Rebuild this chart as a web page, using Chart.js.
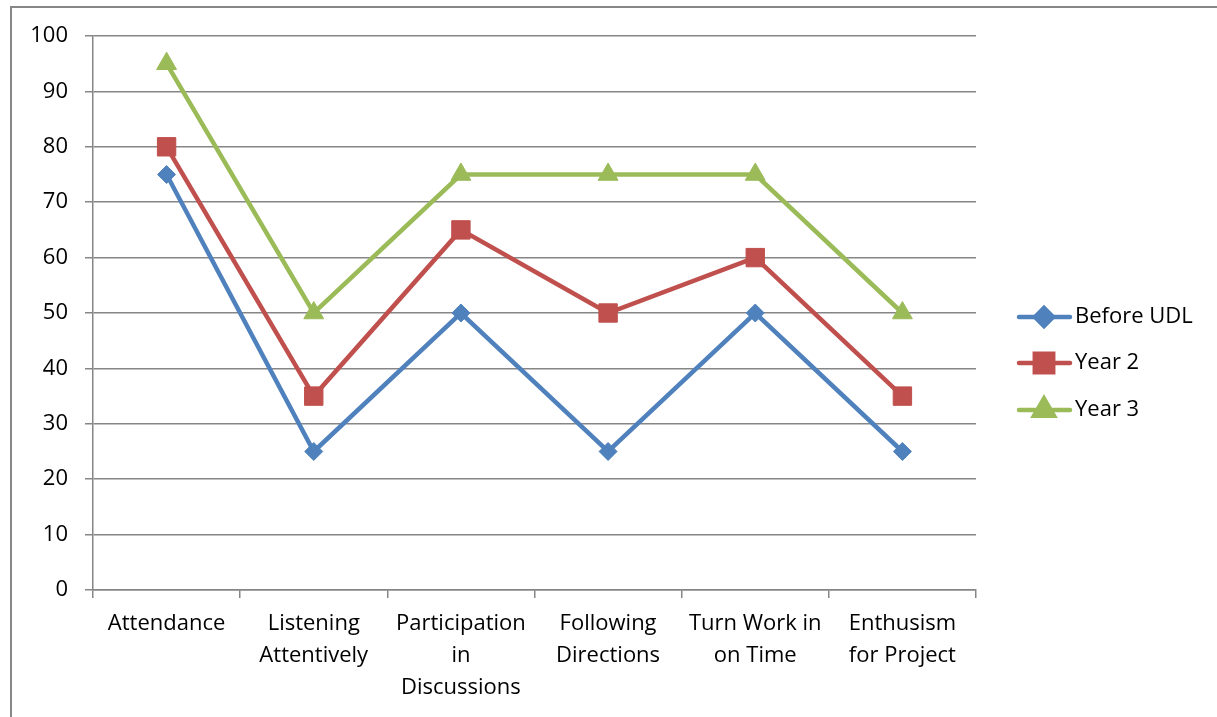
<!DOCTYPE html>
<html><head><meta charset="utf-8">
<script src="https://cdn.jsdelivr.net/npm/chart.js@4/dist/chart.umd.min.js"></script>
<style>html,body{margin:0;padding:0;background:#fff;}#wrap{width:1217px;height:717px;position:relative;}</style>
</head><body><div id="wrap"><canvas id="c" width="1217" height="717"></canvas></div>
<script>
const categories = ["Attendance", ["Listening","Attentively"], ["Participation","in","Discussions"], ["Following","Directions"], ["Turn Work in","on Time"], ["Enthusism","for Project"]];
const seriesNames = ["Before UDL", "Year 2", "Year 3"];
const beforeUDL = [75, 25, 50, 25, 50, 25];
const year2 = [80, 35, 65, 50, 60, 35];
const year3 = [95, 50, 75, 75, 75, 50];
const yTicks = [0,10,20,30,40,50,60,70,80,90,100];

const FONT = "'Open Sans', sans-serif";
const colors = ['#4F81BD', '#C0504D', '#9BBB59'];
const styles = ['rectRot', 'rect', 'triangle'];
const radii = [9, 13, 11.5];

const borderPlugin = {
  id: 'frame',
  beforeDraw(chart) {
    const ctx = chart.ctx;
    ctx.save();
    ctx.strokeStyle = '#878787';
    ctx.lineWidth = 2;
    ctx.beginPath();
    ctx.moveTo(11, 717); ctx.lineTo(11, 7); ctx.lineTo(1217, 7);
    ctx.stroke();
    ctx.restore();
  }
};
const legendPlugin = {
  id: 'customLegend',
  afterDraw(chart) {
    const ctx = chart.ctx;
    const ys = [317, 363, 410];
    chart.data.datasets.forEach((ds, i) => {
      const y = ys[i];
      ctx.save();
      ctx.strokeStyle = ds.borderColor;
      ctx.lineWidth = 4.5;
      ctx.lineCap = 'round';
      ctx.beginPath(); ctx.moveTo(1019, y); ctx.lineTo(1070, y); ctx.stroke();
      Chart.helpers.drawPoint(ctx, {pointStyle: ds.pointStyle, radius: ds.pointRadius, borderWidth: 1}, 1044, y);
      ctx.fillStyle = ds.borderColor;
      ctx.fill();
      ctx.fillStyle = '#000';
      ctx.font = '22px ' + FONT;
      ctx.textBaseline = 'middle';
      ctx.fillText(ds.label, 1075, y);
      ctx.restore();
    });
  }
};

const series = [beforeUDL, year2, year3];
new Chart(document.getElementById('c'), {
  type: 'line',
  data: {
    labels: categories,
    datasets: series.map((d, i) => ({
      label: seriesNames[i],
      data: d,
      borderColor: colors[i],
      backgroundColor: colors[i],
      pointBackgroundColor: colors[i],
      pointBorderColor: colors[i],
      borderWidth: 4.5,
      pointBorderWidth: 1,
      pointStyle: styles[i],
      pointRadius: radii[i],
      pointHoverRadius: radii[i],
      tension: 0,
      fill: false
    }))
  },
  options: {
    responsive: false,
    animation: false,
    layout: { padding: { left: 0, right: 241, top: 36, bottom: 0 } },
    plugins: { legend: { display: false }, tooltip: { enabled: false } },
    scales: {
      x: {
        offset: true,
        grid: { drawOnChartArea: false, drawTicks: true, tickLength: 8, color: '#868686', lineWidth: 1.5, offset: true },
        border: { color: '#868686', width: 1.5 },
        ticks: { color: '#000', font: { family: FONT, size: 22, lineHeight: 1.45 }, maxRotation: 0, autoSkip: false, padding: 10 },
        afterFit(s) { s.height = 127; }
      },
      y: {
        min: 0, max: 100,
        afterBuildTicks(s) { s.ticks = yTicks.map(v => ({ value: v })); },
        grid: { color: '#868686', lineWidth: 1.5, tickLength: 8 },
        border: { color: '#868686', width: 1.5 },
        ticks: { color: '#000', font: { family: FONT, size: 22 }, padding: 17 },
        afterFit(s) { s.width = 93; }
      }
    }
  },
  plugins: [borderPlugin, legendPlugin]
});
</script></body></html>
